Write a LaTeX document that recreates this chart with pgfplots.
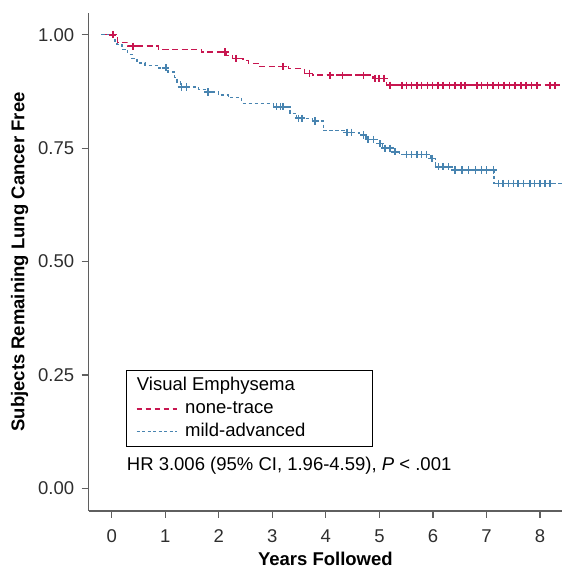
\documentclass[border=0pt]{standalone}
\usepackage{fontspec}
\setmainfont{Liberation Sans}
\usepackage{pgfplots}
\pgfplotsset{compat=1.18}
\usepackage{pgfplotstable}

\definecolor{kmred}{RGB}{200,22,80}
\definecolor{kmblue}{RGB}{72,132,176}
\definecolor{axgray}{RGB}{95,95,95}

% Kaplan-Meier steps: (time, survival)
\pgfplotstableread{
x y
-0.20 1.000
0.11 0.983
0.30 0.975
0.87 0.968
1.68 0.962
2.15 0.954
2.25 0.948
2.45 0.943
2.55 0.937
2.77 0.930
3.30 0.925
3.60 0.915
3.75 0.911
4.88 0.904
5.13 0.889
8.40 0.889
}\redsteps

\pgfplotstableread{
x y
0.02 1.000
0.40 0.975
2.12 0.962
2.32 0.948
3.20 0.930
3.69 0.915
4.08 0.911
4.31 0.911
4.70 0.911
4.92 0.904
4.99 0.904
5.09 0.904
5.20 0.889
5.42 0.889
5.51 0.889
5.60 0.889
5.70 0.889
5.79 0.889
5.90 0.889
5.99 0.889
6.09 0.889
6.19 0.889
6.31 0.889
6.41 0.889
6.52 0.889
6.60 0.889
6.82 0.889
6.91 0.889
7.02 0.889
7.12 0.889
7.22 0.889
7.33 0.889
7.43 0.889
7.53 0.889
7.64 0.889
7.74 0.889
7.84 0.889
7.94 0.889
8.19 0.889
8.28 0.889
}\redcens

\pgfplotstableread{
x y
-0.20 1.000
0.06 0.985
0.10 0.978
0.19 0.968
0.30 0.957
0.38 0.948
0.47 0.938
0.62 0.933
0.87 0.927
1.05 0.918
1.17 0.906
1.22 0.896
1.28 0.885
1.62 0.880
1.75 0.874
1.99 0.867
2.18 0.861
2.43 0.849
3.02 0.841
3.33 0.827
3.45 0.816
3.75 0.810
3.95 0.789
4.37 0.785
4.62 0.779
4.75 0.769
5.00 0.760
5.06 0.750
5.25 0.742
5.38 0.736
5.95 0.727
6.05 0.709
6.36 0.702
7.14 0.672
8.41 0.672
}\bluesteps

\pgfplotstableread{
x y
1.01 0.927
1.30 0.885
1.40 0.885
1.80 0.874
3.08 0.841
3.15 0.841
3.20 0.841
3.49 0.816
3.55 0.816
3.80 0.810
4.39 0.785
4.48 0.785
4.70 0.779
4.79 0.769
4.89 0.769
5.01 0.760
5.10 0.750
5.20 0.750
5.29 0.742
5.51 0.736
5.60 0.736
5.70 0.736
5.79 0.736
5.88 0.736
5.98 0.727
6.10 0.709
6.19 0.709
6.29 0.709
6.41 0.702
6.54 0.702
6.66 0.702
6.79 0.702
6.91 0.702
7.00 0.702
7.13 0.702
7.22 0.672
7.31 0.672
7.41 0.672
7.50 0.672
7.59 0.672
7.69 0.672
7.81 0.672
7.90 0.672
8.00 0.672
8.09 0.672
8.19 0.672
}\bluecens

\begin{document}
\begin{tikzpicture}
\begin{axis}[
    scale only axis,
    width=473.3pt, height=498pt,
    xmin=-0.43, xmax=8.41,
    ymin=-0.05, ymax=1.048,
    axis x line*=bottom, axis y line*=left,
    axis line style={axgray, line width=1.2pt},
    xtick={0,1,...,8},
    ytick={0,0.25,0.5,0.75,1},
    tick align=outside,
    major tick length=7pt,
    tick style={axgray, line width=1.2pt},
    /pgf/number format/assume math mode=true,
    yticklabel style={/pgf/number format/fixed, /pgf/number format/fixed zerofill,
        /pgf/number format/precision=2, xshift=-4pt},
    tick label style={font=\fontsize{18.5}{22}\selectfont, text=black!82},
    xticklabel style={yshift=-8pt},
    xlabel={Years Followed},
    ylabel={Subjects Remaining Lung Cancer Free},
    xlabel shift=3pt,
    ylabel shift=3pt,
    label style={font=\fontsize{18.5}{22}\selectfont\bfseries},
    clip=true,
]
\addplot[kmred, line width=1.3pt, const plot, dash pattern=on 6pt off 3.5pt]
    table[x=x, y=y] {\redsteps};
\addplot[kmblue, line width=1.3pt, const plot, dash pattern=on 3.5pt off 2.5pt]
    table[x=x, y=y] {\bluesteps};
\addplot[only marks, kmred, mark=+, mark size=3.6pt, mark options={solid, line width=1.5pt}]
    table[x=x, y=y] {\redcens};
\addplot[only marks, kmblue, mark=+, mark size=3.6pt, mark options={solid, line width=1.5pt}]
    table[x=x, y=y] {\bluecens};

% legend box
\node[draw=black, line width=0.9pt, anchor=north west, inner sep=0pt,
      minimum width=245.7pt, minimum height=76pt] (leg) at (axis cs:0.267,0.261) {};
\begin{scope}[every node/.style={anchor=base west, inner sep=0pt,
      font=\fontsize{18.5}{22}\selectfont}]
\node at ([xshift=10.7pt, yshift=-20.7pt]leg.north west) {Visual Emphysema};
\draw[kmred, line width=1.3pt, dash pattern=on 5pt off 4pt]
    ([xshift=10.7pt, yshift=-39pt]leg.north west) -- ++(40pt,0pt);
\node at ([xshift=59pt, yshift=-44pt]leg.north west) {none-trace};
\draw[kmblue, line width=1.3pt, dash pattern=on 3pt off 2.5pt]
    ([xshift=10.7pt, yshift=-61.7pt]leg.north west) -- ++(40pt,0pt);
\node at ([xshift=59pt, yshift=-66.7pt]leg.north west) {mild-advanced};
\end{scope}

\node[anchor=base west, font=\fontsize{18.5}{22}\selectfont, inner sep=0pt]
    at (axis cs:0.28,0.040) {HR 3.006 (95\% CI, 1.96-4.59), \textit{P} < .001};
\end{axis}
\pgfresetboundingbox
\path[use as bounding box] ([xshift=-88.7pt,yshift=-60pt]current axis.south west) rectangle ++(562pt,571pt);
\end{tikzpicture}
\end{document}
